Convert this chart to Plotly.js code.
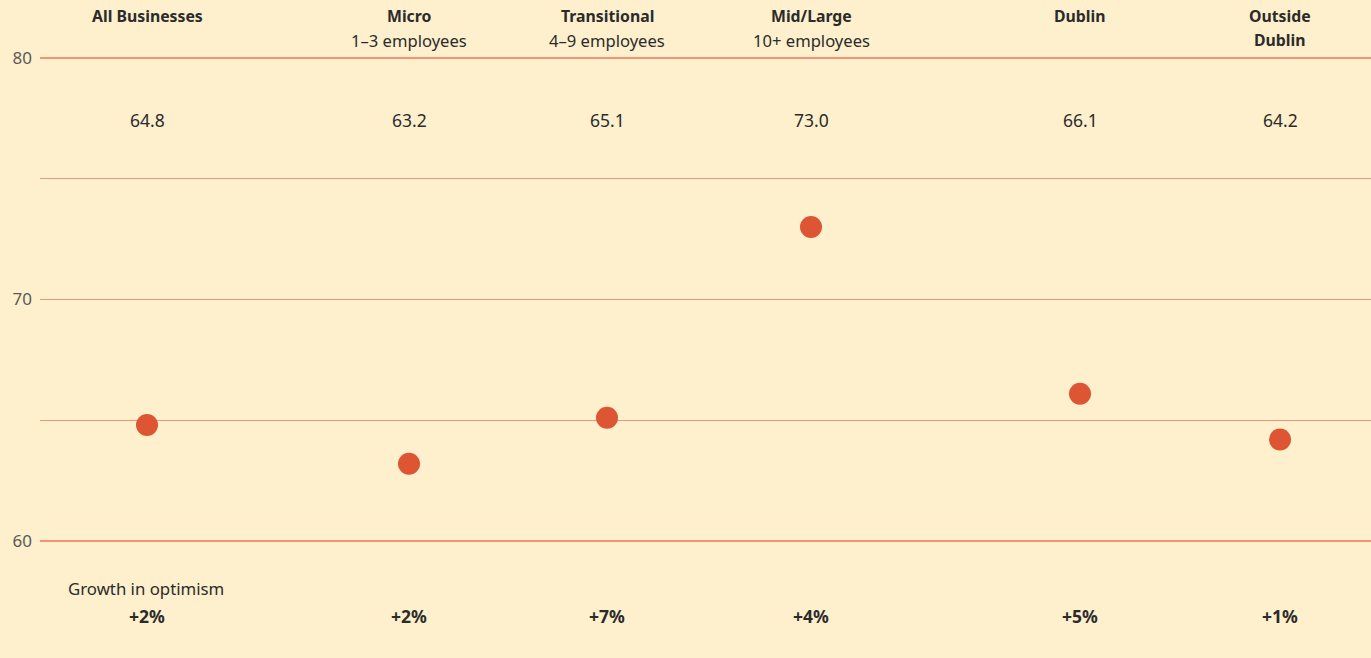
<!DOCTYPE html>
<html>
<head>
<meta charset="utf-8">
<script src="https://cdn.plot.ly/plotly-3.0.1.min.js"></script>
<style>html,body{margin:0;padding:0;background:#FEF0CD;}#chart{width:1371px;height:658px;}</style>
</head>
<body>
<div id="chart"></div>
<script>
// Data
const groupTitles = [['All Businesses'], ['Micro'], ['Transitional'], ['Mid/Large'], ['Dublin'], ['Outside', 'Dublin']];
const groupSubtitles = ['', '1–3 employees', '4–9 employees', '10+ employees', '', ''];
const optimismIndex = [64.8, 63.2, 65.1, 73.0, 66.1, 64.2];
const growthInOptimism = [2, 2, 7, 4, 5, 1];
const yTickValues = [60, 65, 70, 75, 80];
const yTickLabels = ['60', '', '70', '', '80'];

// Layout (column centres along the x axis)
const columnPos = [147, 409, 607, 811, 1080, 1280];

const W = 1371, H = 658, mT = 40, mB = 98, mL = 40, mR = 0;
const plotH = H - mT - mB;
const pxToPaper = px => (H - mB - px) / plotH;

const FONT = 'Noto Sans, Open Sans, sans-serif';
const TXT = '#2b2b2b';

const annotations = [];
columnPos.forEach((x, i) => {
  groupTitles[i].forEach((line, j) => {
    annotations.push({x: x, xref: 'x', y: pxToPaper(16 + 24 * j), yref: 'paper',
      text: '<b>' + line + '</b>', showarrow: false, xanchor: 'center', yanchor: 'middle',
      font: {family: FONT, size: 15.8, color: TXT}});
  });
  if (groupSubtitles[i]) {
    annotations.push({x: x, xref: 'x', y: pxToPaper(40), yref: 'paper',
      text: groupSubtitles[i], showarrow: false, xanchor: 'center', yanchor: 'middle',
      font: {family: FONT, size: 16.6, color: TXT}});
  }
  annotations.push({x: x, xref: 'x', y: pxToPaper(120), yref: 'paper',
    text: optimismIndex[i].toFixed(1), showarrow: false, xanchor: 'center', yanchor: 'middle',
    font: {family: FONT, size: 17.5, color: TXT}});
  annotations.push({x: x, xref: 'x', y: pxToPaper(616), yref: 'paper',
    text: '<b>+' + growthInOptimism[i] + '%</b>', showarrow: false, xanchor: 'center', yanchor: 'middle',
    font: {family: FONT, size: 17.5, color: TXT}});
});
annotations.push({x: 66, xref: 'x', y: pxToPaper(588), yref: 'paper',
  text: 'Growth in optimism', showarrow: false, xanchor: 'left', yanchor: 'middle',
  font: {family: FONT, size: 16.8, color: TXT}});

const trace = {
  type: 'scatter', mode: 'markers',
  x: columnPos, y: optimismIndex,
  marker: {size: 22, color: '#DD5533', line: {width: 0}},
  hoverinfo: 'skip', cliponaxis: false
};

const pxPerUnit = (541 - 58) / 20;
const yTop = 80 + (58 - mT) / pxPerUnit;
const yBot = 60 - ((H - mB) - 541) / pxPerUnit;

const layout = {
  width: W, height: H,
  margin: {l: mL, r: mR, t: mT, b: mB, pad: 0},
  paper_bgcolor: '#FEF0CD', plot_bgcolor: '#FEF0CD',
  showlegend: false,
  xaxis: {range: [mL, W - mR], visible: false, fixedrange: true},
  yaxis: {range: [yBot, yTop], tickvals: yTickValues, ticktext: yTickLabels,
    showgrid: true, gridcolor: '#F09578', gridwidth: 1.3, zeroline: false, showline: false,
    ticks: '', ticklabelstandoff: 7,
    tickfont: {family: FONT, size: 17, color: '#5a5a5a'}, fixedrange: true},
  annotations: annotations
};

Plotly.newPlot('chart', [trace], layout, {displayModeBar: false, staticPlot: true});
</script>
</body>
</html>
